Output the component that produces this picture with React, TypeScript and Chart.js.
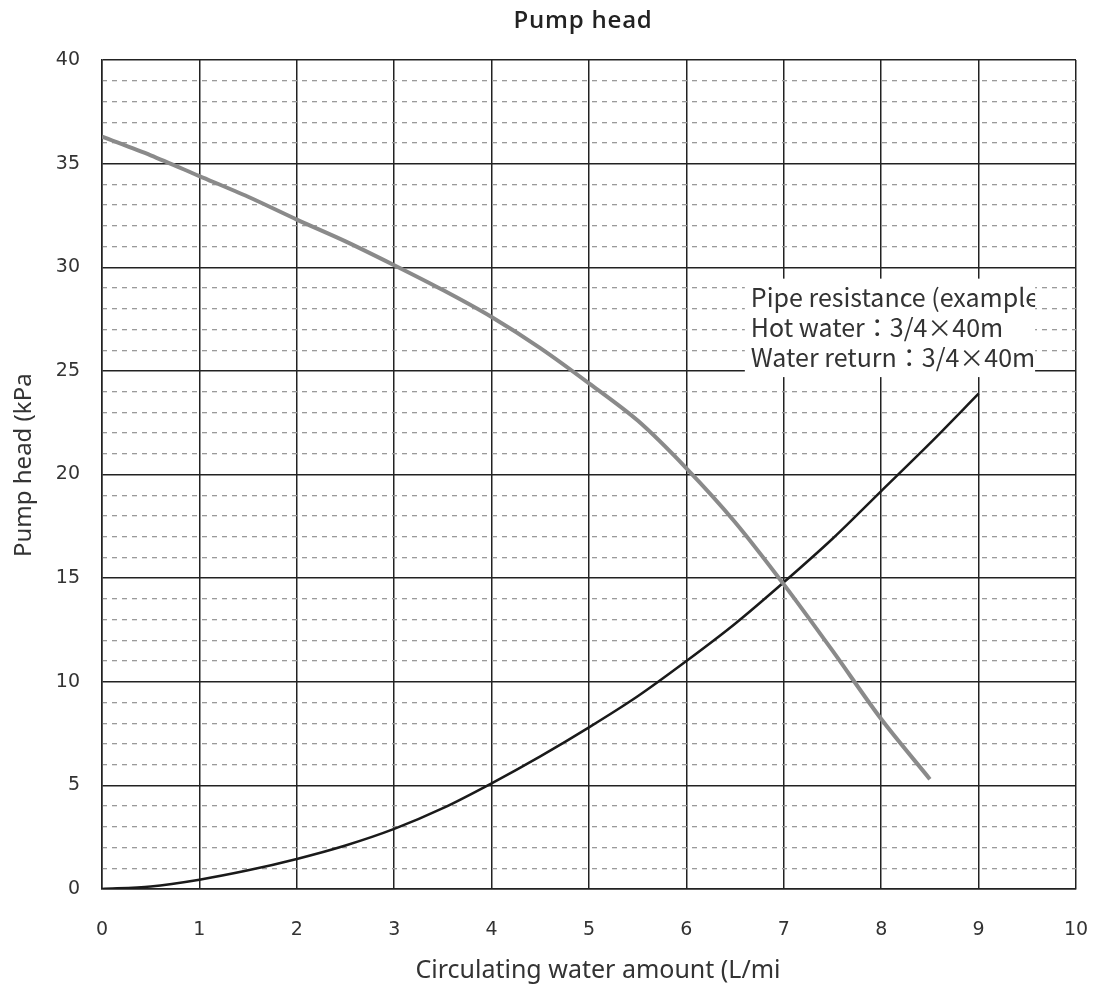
import React, { useEffect, useRef } from "react";
import { Chart, registerables } from "chart.js";

Chart.register(...registerables);

// Circulating water amount (L/min)
const pumpFlow = [0, 0.5, 1, 1.5, 2, 2.5, 3, 3.5, 4, 4.5, 5, 5.5, 6, 6.5, 7, 7.5, 8, 8.5];
// Pump head (kPa)
const pumpHead = [36.3, 35.4, 34.4, 33.4, 32.3, 31.25, 30.1, 28.9, 27.6, 26.1, 24.4, 22.6, 20.3, 17.7, 14.7, 11.5, 8.2, 5.3];

const pipeFlow = [0, 0.5, 1, 1.5, 2, 2.5, 3, 3.5, 4, 4.5, 5, 5.5, 6, 6.5, 7, 7.5, 8, 8.5, 9];
const pipeResistance = [0, 0.12, 0.45, 0.9, 1.45, 2.1, 2.9, 3.9, 5.1, 6.4, 7.8, 9.3, 11.0, 12.8, 14.8, 16.9, 19.2, 21.5, 23.9];

const chartTitle = "Pump head";
const xTitle = "Circulating water amount (L/mi";
const yTitle = "Pump head (kPa";
const noteLines = ["Pipe resistance (example", "Hot water：3/4×40m", "Water return：3/4×40m"];
// note box corners in data units
const noteBox = { x0: 6.6, x1: 9.58, y0: 29.45, y1: 24.7 };

const TEXT_FONT = "'Noto Sans', 'Noto Sans CJK JP', sans-serif";
const NOTE_FONT = "'Noto Sans CJK JP', 'Noto Sans', sans-serif";
const TICK_FONT = "'DejaVu Sans', sans-serif";

const overlayPlugin = {
  id: "overlay",
  afterDraw(chart: any) {
    const { ctx, chartArea, scales } = chart;
    const xs = scales.x;
    const ys = scales.y;
    const midX = (chartArea.left + chartArea.right) / 2;
    ctx.save();
    // title
    ctx.font = `600 24px 'Open Sans', ${TEXT_FONT}`;
    (ctx as any).letterSpacing = "0.8px";
    ctx.fillStyle = "#222";
    ctx.textAlign = "center";
    ctx.textBaseline = "middle";
    ctx.fillText(chartTitle, midX - 6, 21);
    (ctx as any).letterSpacing = "0px";
    // x axis title
    ctx.font = `25px ${TEXT_FONT}`;
    ctx.fillStyle = "#333";
    ctx.textAlign = "center";
    ctx.textBaseline = "alphabetic";
    ctx.fillText(xTitle, midX + 9, 978);
    // y axis title (clipped at its top like the original)
    ctx.save();
    ctx.beginPath();
    ctx.rect(0, 373, 60, 400);
    ctx.clip();
    ctx.translate(31, 557);
    ctx.rotate(-Math.PI / 2);
    ctx.font = `24px ${TEXT_FONT}`;
    ctx.textAlign = "left";
    ctx.fillText(yTitle, 0, 0);
    ctx.restore();
    // note box
    const l = xs.getPixelForValue(noteBox.x0);
    const r = xs.getPixelForValue(noteBox.x1);
    const t = ys.getPixelForValue(noteBox.y0);
    const b = ys.getPixelForValue(noteBox.y1);
    ctx.fillStyle = "#fff";
    ctx.fillRect(l, t, r - l, b - t);
    ctx.beginPath();
    ctx.rect(l, t, r - l, b - t);
    ctx.clip();
    ctx.font = `25px ${NOTE_FONT}`;
    ctx.fillStyle = "#333";
    ctx.textAlign = "left";
    ctx.textBaseline = "alphabetic";
    noteLines.forEach((line, i) => {
      ctx.fillText(line, l + 6, t + 28 + i * 30);
    });
    ctx.restore();
  },
};

export default function App() {
  const ref = useRef<HTMLCanvasElement>(null);
  useEffect(() => {
    if (!ref.current) return;
    const chart = new Chart(ref.current, {
      type: "line",
      data: {
        datasets: [
          {
            label: "Pump head",
            data: pumpFlow.map((x, i) => ({ x, y: pumpHead[i] })),
            borderColor: "#8a8a8a",
            borderWidth: 4,
            pointRadius: 0,
            tension: 0.3,
            yAxisID: "y",
          },
          {
            label: "Pipe resistance",
            data: pipeFlow.map((x, i) => ({ x, y: pipeResistance[i] })),
            borderColor: "#1a1a1a",
            borderWidth: 2.5,
            pointRadius: 0,
            tension: 0.3,
            yAxisID: "y",
          },
        ],
      },
      options: {
        animation: false,
        responsive: true,
        maintainAspectRatio: false,
        layout: { padding: { top: 60, right: 20, bottom: 0, left: 0 } },
        plugins: { legend: { display: false }, tooltip: { enabled: false }, title: { display: false } },
        scales: {
          x: {
            type: "linear",
            min: 0,
            max: 10,
            ticks: { stepSize: 1, font: { family: TICK_FONT, size: 19 }, color: "#333", padding: 30 },
            grid: { color: "#222", lineWidth: 1.5, drawTicks: false },
            border: { color: "#222", width: 1.5 },
            title: { display: false, text: xTitle },
            afterFit: (s: any) => {
              s.height = 99;
              s.paddingLeft = 0;
              s.paddingRight = 0;
            },
          },
          y: {
            type: "linear",
            position: "left",
            min: 0,
            max: 40,
            ticks: {
              stepSize: 1,
              autoSkip: false,
              font: { family: TICK_FONT, size: 19 },
              color: "#333",
              padding: 22,
              callback: (v: any) => (Number(v) % 5 === 0 ? String(v) : ""),
            },
            grid: {
              color: (c: any) => (c.tick && c.tick.value % 5 === 0 ? "#222" : "rgba(0,0,0,0)"),
              lineWidth: 1.5,
              drawTicks: false,
            },
            border: { color: "#222", width: 1.5 },
            title: { display: false, text: yTitle },
            afterFit: (s: any) => { s.width = 102; },
          },
          yMinor: {
            type: "linear",
            position: "left",
            min: 0,
            max: 40,
            ticks: { display: false, stepSize: 1, autoSkip: false },
            grid: {
              color: (c: any) => (c.tick && c.tick.value % 5 === 0 ? "rgba(0,0,0,0)" : "#9a9a9a"),
              lineWidth: 1.3,
              drawTicks: false,
            },
            border: { display: false, dash: [5, 5] },
            afterFit: (s: any) => { s.width = 0; },
          },
        },
      },
      plugins: [overlayPlugin],
    } as any);
    return () => chart.destroy();
  }, []);
  return (
    <div style={{ position: "absolute", left: 0, top: 0, width: 1096, height: 988, background: "#fff" }}>
      <canvas ref={ref} />
    </div>
  );
}
